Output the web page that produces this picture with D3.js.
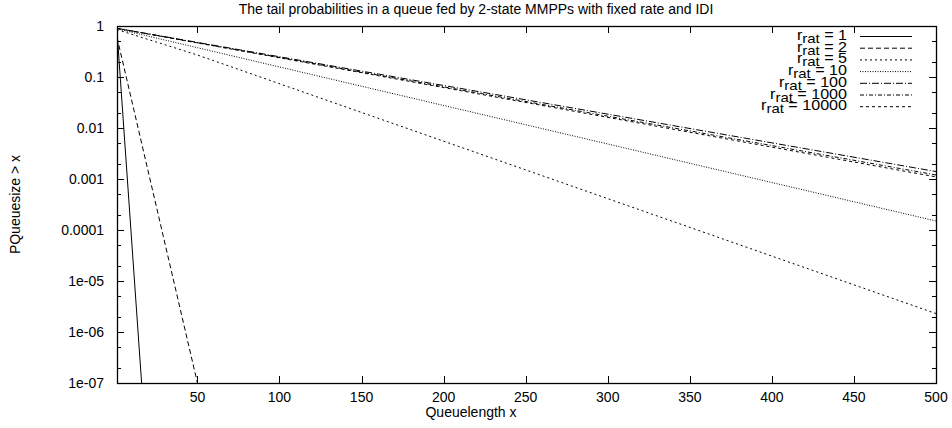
<!DOCTYPE html>
<html>
<head>
<meta charset="utf-8">
<script src="https://cdn.jsdelivr.net/npm/d3@7"></script>
<style>
  body { margin: 0; background: #fff; }
  svg { font-family: "Liberation Sans", Arial, sans-serif; }
</style>
</head>
<body>
<div id="chart"></div>
<script>
// data
var titleText = "The tail probabilities in a queue fed by 2-state MMPPs with fixed rate and IDI";
var xTicks = [50, 100, 150, 200, 250, 300, 350, 400, 450, 500];
var yTicks = [1, 0.1, 0.01, 0.001, 0.0001, 1e-5, 1e-6, 1e-7];
var yTickLabels = ["1", "0.1", "0.01", "0.001", "0.0001", "1e-05", "1e-06", "1e-07"];

var seriesNames = ["1", "2", "5", "10", "100", "1000", "10000"];
var seriesX = [
  [1, 16],
  [1, 50],
  [1, 50, 500],
  [1, 500],
  [1, 500],
  [1, 500],
  [1, 500]
];
var seriesP = [
  [0.8, 1e-7],
  [0.6, 1e-7],
  [0.85, 0.27, 2.3e-6],
  [0.88, 1.5e-4],
  [0.9, 1.4e-3],
  [0.9, 1.2e-3],
  [0.9, 1.1e-3]
];
var dashes = ["none", "5,3", "2,3", "1,1.5", "7,2,1,2", "4,2,1,2", "3,3"];

// Chart params
var svgWidth = 952, svgHeight = 428;
var margin = { top: 26, right: 16, bottom: 45, left: 117 };
var width = svgWidth - margin.left - margin.right;
var height = svgHeight - margin.top - margin.bottom;

var svg = d3.select("#chart").append("svg")
  .attr("width", svgWidth)
  .attr("height", svgHeight);

var chartGroup = svg.append("g")
  .attr("transform", `translate(${margin.left}, ${margin.top})`);

var xScale = d3.scaleLinear().domain([1, 500]).range([0, width]);
var yScale = d3.scaleLog().domain([1e-7, 1]).range([height, 0]);

// clip for the curves
svg.append("defs").append("clipPath").attr("id", "clip")
  .append("rect").attr("width", width).attr("height", height);

// ticks, gnuplot style: inside, mirrored on every side
var majorLen = 7, minorLen = 4;
var ticksG = chartGroup.append("g").attr("stroke", "#000").attr("stroke-width", 1);

xTicks.forEach(function(t) {
  var x = Math.round(xScale(t)) + 0.5;
  ticksG.append("line").attr("x1", x).attr("x2", x).attr("y1", height).attr("y2", height - majorLen);
  ticksG.append("line").attr("x1", x).attr("x2", x).attr("y1", 0).attr("y2", majorLen);
});

var minorVals = [];
for (var e = -7; e < 0; e++) {
  [2, 5].forEach(function(m) { minorVals.push(m * Math.pow(10, e)); });
}
yTicks.forEach(function(t) {
  var y = Math.round(yScale(t)) + 0.5;
  ticksG.append("line").attr("x1", 0).attr("x2", majorLen).attr("y1", y).attr("y2", y);
  ticksG.append("line").attr("x1", width).attr("x2", width - majorLen).attr("y1", y).attr("y2", y);
});
minorVals.forEach(function(t) {
  var y = Math.round(yScale(t)) + 0.5;
  ticksG.append("line").attr("x1", 0).attr("x2", minorLen).attr("y1", y).attr("y2", y);
  ticksG.append("line").attr("x1", width).attr("x2", width - minorLen).attr("y1", y).attr("y2", y);
});

// tick labels
chartGroup.selectAll(".xlab").data(xTicks).enter().append("text")
  .attr("x", d => xScale(d))
  .attr("y", height + 19)
  .attr("text-anchor", "middle")
  .style("font-size", "14px")
  .text(d => d);

chartGroup.selectAll(".ylab").data(yTicks).enter().append("text")
  .attr("x", -13)
  .attr("y", d => yScale(d) + 5)
  .attr("text-anchor", "end")
  .style("font-size", "14px")
  .text((d, i) => yTickLabels[i]);

// curves
var line = d3.line()
  .x(d => xScale(d[0]))
  .y(d => yScale(d[1]));

var curvesG = chartGroup.append("g").attr("clip-path", "url(#clip)");
seriesNames.forEach(function(name, i) {
  var pts = seriesX[i].map((x, j) => [x, seriesP[i][j]]);
  curvesG.append("path")
    .datum(pts)
    .attr("d", line)
    .attr("fill", "none")
    .attr("stroke", "#000")
    .attr("stroke-width", 1)
    .attr("stroke-dasharray", dashes[i]);
});

// frame
chartGroup.append("rect")
  .attr("x", 0.5).attr("y", 0.5)
  .attr("width", width).attr("height", height)
  .attr("fill", "none")
  .attr("stroke", "#000")
  .attr("stroke-width", 1.3);

// legend (text is a bit wider in the original, so stretch it)
var legend = chartGroup.append("g");
seriesNames.forEach(function(name, i) {
  var yy = 10 + i * 11.7;
  var t = legend.append("text")
    .attr("transform", `translate(730, ${yy + 4}) scale(1.15, 1)`)
    .attr("text-anchor", "end")
    .style("font-size", "14px");
  t.append("tspan").text("r");
  t.append("tspan").attr("dy", 3).style("font-size", "13px").text("rat");
  t.append("tspan").attr("dy", -3).text(" = " + name);
  legend.append("line")
    .attr("x1", 743).attr("x2", 795)
    .attr("y1", yy + 0.5).attr("y2", yy + 0.5)
    .attr("stroke", "#000")
    .attr("stroke-width", 1)
    .attr("stroke-dasharray", dashes[i]);
});

// title and axis labels
svg.append("text")
  .attr("x", 476).attr("y", 14)
  .attr("text-anchor", "middle")
  .style("font-size", "14px")
  .text(titleText);

svg.append("text")
  .attr("x", 471).attr("y", 417)
  .attr("text-anchor", "middle")
  .style("font-size", "14px")
  .text("Queuelength x");

svg.append("text")
  .attr("transform", `translate(20, ${margin.top + height / 2}) rotate(-90)`)
  .attr("text-anchor", "middle")
  .style("font-size", "14px")
  .text("PQueuesize > x");
</script>
</body>
</html>
